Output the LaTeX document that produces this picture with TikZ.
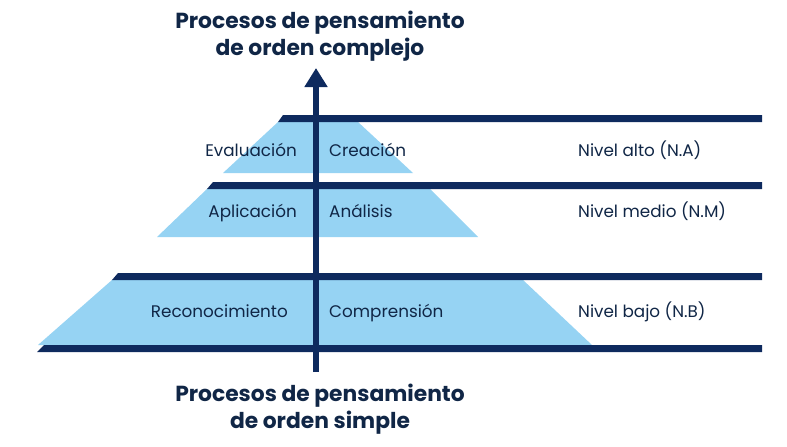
\documentclass[tikz,border=0pt]{standalone}
\usepackage{fontspec}
\setmainfont{Poppins}
\usepackage{tikz}
\usetikzlibrary{arrows.meta}
\usetikzlibrary{positioning}
\definecolor{navy}{RGB}{14,42,94}
\definecolor{inkblue}{RGB}{16,38,70}
\definecolor{skyblue}{RGB}{150,211,243}
\tikzset{level/.style={fill=skyblue, draw=none}}
\tikzset{band/.style={fill=navy, draw=none}}
\tikzset{axis/.style={draw=navy, line width=6.5pt, -{Triangle[length=19pt,width=22pt]}}}
\tikzset{label/.style={text=inkblue, font=\fontsize{16.8}{20}\selectfont, inner sep=0pt}}
\tikzset{title/.style={text=inkblue, font=\fontsize{21.8}{26.5}\selectfont\bfseries, align=center, inner sep=0pt}}

\begin{document}
\begin{tikzpicture}[x=1pt,y=-1pt]
\useasboundingbox (0,0) rectangle (787,447);

%levels
\path[level] (278,122) -- (358,122) -- (413,173) -- (223,173) -- cycle;
\path[level] (207,189) -- (430,189) -- (478,237) -- (157,237) -- cycle;
\path[level] (112,280) -- (523,280) -- (592,345) -- (38,345) -- cycle;

%bands
\path[band] (283,115) -- (762,115) -- (762,122) -- (278,122) -- cycle;
\path[band] (213,182) -- (762,182) -- (762,189) -- (207,189) -- cycle;
\path[band] (118,273) -- (762,273) -- (762,280) -- (112,280) -- cycle;
\path[band] (44,345) -- (762,345) -- (762,352) -- (37,352) -- cycle;

%axis
\coordinate (base) at (316,372);
\coordinate (tip) at (316,68);
\draw[axis] (base) -- (tip);

%titles (base = last line)
\node[title, anchor=base] (complex) at (320,55) {Procesos de pensamiento\\de orden complejo};
\node[title, anchor=base] (simple) at (320,428) {Procesos de pensamiento\\de orden simple};

%left side
\node[label, anchor=base east] (eval) at (297,156) {Evaluación};
\node[label, anchor=base east] (apli) at (297,217) {Aplicación};
\node[label, anchor=base east] (reco) at (288,317) {Reconocimiento};

%right side
\node[label, anchor=base west] (crea) at (329,156) {Creación};
\node[label, anchor=base west] (anal) at (329,217) {Análisis};
\node[label, anchor=base west] (comp) at (329,317) {Comprensión};

%levels text
\node[label, anchor=base west] (alto) at (578,156) {Nivel alto (N.A)};
\node[label, anchor=base west] (medio) at (578,217) {Nivel medio (N.M)};
\node[label, anchor=base west] (bajo) at (578,317) {Nivel bajo (N.B)};

\end{tikzpicture}
\end{document}
